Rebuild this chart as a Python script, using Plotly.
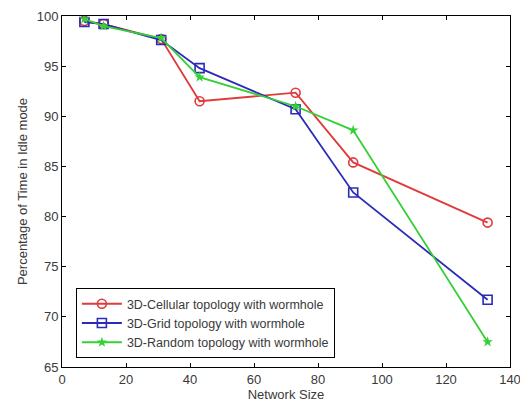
import plotly.graph_objects as go

# Network sizes and percentage of time spent in idle mode
network_size = [7, 13, 31, 43, 73, 91, 133]
cellular_idle = [99.5, 99.2, 97.7, 91.5, 92.35, 85.4, 79.4]
grid_idle = [99.4, 99.2, 97.6, 94.8, 90.7, 82.4, 71.7]
random_idle = [99.7, 99.0, 97.8, 93.9, 91.0, 88.6, 67.5]

series_names = [
    "3D-Cellular topology with wormhole",
    "3D-Grid topology with wormhole",
    "3D-Random topology with wormhole",
]

x_ticks = [0, 20, 40, 60, 80, 100, 120, 140]
y_ticks = [65, 70, 75, 80, 85, 90, 95, 100]

FONT = "Liberation Sans, Arial, sans-serif"
TEXT_COLOR = "#3a3a3a"

fig = go.Figure()
fig.add_trace(go.Scatter(
    x=network_size, y=cellular_idle, name=series_names[0], mode="lines+markers",
    line=dict(color="#e03a3a", width=1.8),
    marker=dict(symbol="circle-open", size=9, color="#e03a3a", line=dict(width=1.6)),
))
fig.add_trace(go.Scatter(
    x=network_size, y=grid_idle, name=series_names[1], mode="lines+markers",
    line=dict(color="#2b2bb8", width=1.8),
    marker=dict(symbol="square-open", size=9, color="#2b2bb8", line=dict(width=1.6)),
))
fig.add_trace(go.Scatter(
    x=network_size, y=random_idle, name=series_names[2], mode="lines+markers",
    line=dict(color="#35d035", width=1.8),
    marker=dict(symbol="star", size=8, color="#35d035"),
))

axis_common = dict(
    showgrid=False, zeroline=False, showline=True, linecolor="#000000", linewidth=1,
    mirror="ticks", ticks="inside", ticklen=4, tickcolor="#000000",
    tickfont=dict(family=FONT, size=13, color=TEXT_COLOR),
    automargin=False, ticklabeloverflow="allow",
)

fig.update_xaxes(
    range=[0, 140], tickvals=x_ticks,
    title=dict(text="Network Size", standoff=0,
               font=dict(family=FONT, size=13, color=TEXT_COLOR)),
    **axis_common,
)
fig.update_yaxes(
    range=[65, 100], tickvals=y_ticks,
    title=dict(text="Percentage of Time in Idle mode", standoff=6,
               font=dict(family=FONT, size=13, color=TEXT_COLOR)),
    **axis_common,
)

fig.update_layout(
    width=520, height=403,
    margin=dict(l=62, r=10, t=16, b=36),
    paper_bgcolor="white", plot_bgcolor="white",
    legend=dict(
        x=0.031, y=0.125, xanchor="left", yanchor="middle",
        bgcolor="white", bordercolor="#000000", borderwidth=1,
        font=dict(family=FONT, size=12.5, color=TEXT_COLOR),
        tracegroupgap=0, itemwidth=40,
    ),
)

fig.write_html("out.html")
